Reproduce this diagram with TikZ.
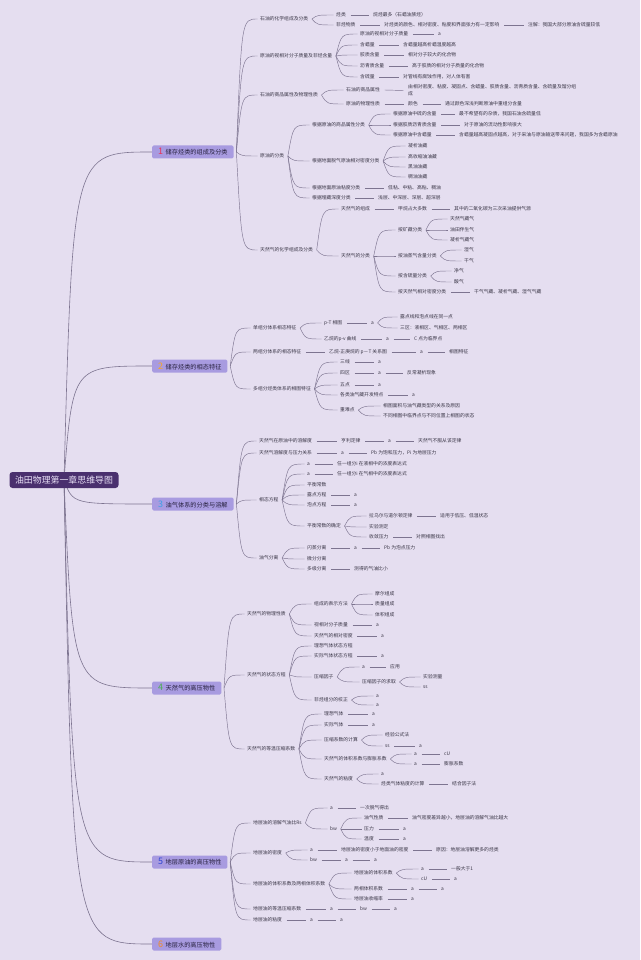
\documentclass[tikz,border=0pt]{standalone}
\usepackage{fontspec}
\setmainfont{Noto Sans CJK SC}
\usetikzlibrary{calc}
\definecolor{bgc}{RGB}{229,222,240}
\definecolor{lc}{RGB}{125,116,144}
\definecolor{txc}{RGB}{58,54,70}
\definecolor{rootc}{RGB}{74,48,110}
\definecolor{roott}{RGB}{232,224,246}
\definecolor{topc}{RGB}{168,155,224}
\definecolor{topt}{RGB}{40,34,64}
\definecolor{nA}{RGB}{232,52,90}
\definecolor{nB}{RGB}{245,166,35}
\definecolor{nC}{RGB}{59,160,230}
\definecolor{nD}{RGB}{76,175,80}
\definecolor{nE}{RGB}{50,70,210}
\definecolor{nF}{RGB}{242,140,40}
\pgfdeclarelayer{back}\pgfdeclarelayer{edges}\pgfsetlayers{back,edges,main}
\newcommand\mmN[4]{\node[tx] (#1) at (#2,#3) {#4};}
\newcommand\mmL[2]{\draw[ln] ([xshift=3.5pt]#1.east) -- ([xshift=-3.5pt]#2.west);}
\newcommand\mmB[2]{\draw[ln] let \p1=([xshift=2.5pt]#1.east), \p2=([xshift=-1.5pt]#2.west) in (\p1) .. controls ({\x1+0.25*(\x2-\x1)},\y2) .. (\p2);}
\newcommand\mmR[1]{\draw[rl] let \p1=(root.center), \p2=(#1.west) in (\p1) .. controls ({\x1+0.1*(\x2-\x1)},\y2) .. (\p2);}
\newcommand\mmT[2]{{\color{#1}\fontsize{9}{9}\selectfont #2}\hspace{2.5pt}}
\begin{document}
\begin{tikzpicture}[x=1pt,y=-1pt,
  tx/.style={anchor=west,text=txc,font=\fontsize{4.8}{5}\selectfont,inner sep=1pt,text height=4.2pt,text depth=0.8pt},
  txb/.style={anchor=west,text=txc,font=\fontsize{4.8}{7}\selectfont,inner sep=1pt,align=left},
  ln/.style={draw=lc,line width=0.45pt},
  rl/.style={draw=lc,line width=0.6pt},
  topic/.style={anchor=west,fill=topc,text=topt,font=\fontsize{6.2}{7}\selectfont,minimum height=13pt,inner xsep=6pt,inner ysep=0pt,rounded corners=1.5pt},
  rootn/.style={fill=rootc,text=roott,font=\fontsize{8.9}{10}\selectfont,minimum height=16pt,minimum width=109pt,inner sep=0pt,rounded corners=3pt}]
\useasboundingbox (0,0) rectangle (640,960);
\begin{pgfonlayer}{back}
\fill[bgc] (0,0) rectangle (640,960);
\end{pgfonlayer}
% root and topics
\node[rootn] (root) at (64,480) {油田物理第一章思维导图};
\node[topic] (t1) at (152,152) {\mmT{nA}{1}储存烃类的组成及分类};
\node[topic] (t2) at (152,366) {\mmT{nB}{2}储存烃类的相态特征};
\node[topic] (t3) at (152,504) {\mmT{nC}{3}油气体系的分类与溶解};
\node[topic] (t4) at (152,688) {\mmT{nD}{4}天然气的高压物性};
\node[topic] (t5) at (152,862) {\mmT{nE}{5}地层原油的高压物性};
\node[topic] (t6) at (152,944) {\mmT{nF}{6}地层水的高压物性};
% ---------- topic 1
\mmN{a1}{259}{19}{石油的化学组成及分类}
\mmN{a1a}{335}{15}{烃类}
\mmN{a1a1}{372}{15}{烷烃最多（石蜡油族烃）}
\mmN{a1b}{335}{25}{非烃物质}
\mmN{a1b1}{383}{25}{对烃类的颜色、相对密度、粘度和界面张力有一定影响}
\mmN{a1b2}{527}{25}{注解：我国大部分原油含硫量较低}
\mmN{a2}{259}{56}{原油的视相对分子质量及非烃含量}
\mmN{a2a}{359}{34}{原油的视相对分子质量}
\mmN{a2a1}{437}{34}{a}
\mmN{a2b}{359}{45}{含蜡量}
\mmN{a2b1}{402}{45}{含蜡量越高析蜡温度越高}
\mmN{a2c}{359}{55}{胶质含量}
\mmN{a2c1}{407}{55}{相对分子较大的化合物}
\mmN{a2d}{359}{66}{沥青质含量}
\mmN{a2d1}{411}{66}{高于胶质的相对分子质量的化合物}
\mmN{a2e}{359}{77}{含硫量}
\mmN{a2e1}{402}{77}{对管线有腐蚀作用，对人体有害}
\mmN{a3}{259}{95}{石油的商品属性及物理性质}
\mmN{a3a}{345}{90}{石油的商品属性}
\node[txb] (a3a1) at (407,90.5) {由相对密度、粘度、凝固点、含蜡量、胶质含量、沥青质含量、含硫量及馏分组\\成};
\mmN{a3b}{345}{104}{原油的物理性质}
\mmN{a3b1}{407}{104}{颜色}
\mmN{a3b2}{444}{104}{通过颜色深浅判断原油中重组分含量}
\mmN{a4}{259}{156}{原油的分类}
\mmN{a4a}{311}{125}{根据原油的商品属性分类}
\mmN{a4a1}{392}{114}{根据原油中硫的含量}
\mmN{a4a1x}{458}{114}{最不希望有的杂质，我国石油含硫量低}
\mmN{a4a2}{392}{125}{根据胶质沥青质含量}
\mmN{a4a2x}{463}{125}{对于原油的流动性影响很大}
\mmN{a4a3}{392}{135}{根据原油中含蜡量}
\mmN{a4a3x}{458}{135}{含蜡量越高凝固点越高，对于采油与原油输送带来问题，我国多为含蜡原油}
\mmN{a4b}{311}{161}{根据地面脱气原油相对密度分类}
\mmN{a4b1}{407}{146}{凝析油藏}
\mmN{a4b2}{407}{157}{高收缩油油藏}
\mmN{a4b3}{407}{167}{黑油油藏}
\mmN{a4b4}{407}{177}{稠油油藏}
\mmN{a4c}{311}{188}{根据地面原油粘度分类}
\mmN{a4c1}{387}{188}{低粘、中粘、高粘、稠油}
\mmN{a4d}{311}{198}{根据埋藏深度分类}
\mmN{a4d1}{377}{198}{浅层、中深层、深层、超深层}
\mmN{a5}{259}{250}{天然气的化学组成及分类}
\mmN{a5a}{340}{209}{天然气的组成}
\mmN{a5a1}{397}{209}{甲烷占大多数}
\mmN{a5a2}{453}{209}{其中的二氧化碳为三次采油提供气源}
\mmN{a5b}{340}{256}{天然气的分类}
\mmN{a5b1}{397}{230}{按矿藏分类}
\mmN{a5b1a}{449}{219}{天然气藏气}
\mmN{a5b1b}{449}{230}{油田伴生气}
\mmN{a5b1c}{449}{240}{凝析气藏气}
\mmN{a5b2}{397}{256}{按油蒸气含量分类}
\mmN{a5b2a}{463}{250}{湿气}
\mmN{a5b2b}{463}{261}{干气}
\mmN{a5b3}{397}{276}{按含硫量分类}
\mmN{a5b3a}{453}{271}{净气}
\mmN{a5b3b}{453}{282}{酸气}
\mmN{a5b4}{397}{292}{按天然气相对密度分类}
\mmN{a5b4a}{473}{292}{干气气藏、凝析气藏、湿气气藏}
% ---------- topic 2
\mmN{b1}{252}{328}{单组分体系相态特征}
\mmN{b1a}{323}{323}{p-T 相图}
\mmN{b1a1}{370}{323}{a}
\mmN{b1a1a}{399}{317}{露点线和泡点线在同一点}
\mmN{b1a1b}{399}{328}{三区：液相区、气相区、两相区}
\mmN{b1b}{323}{339}{乙烷的p-v 曲线}
\mmN{b1b1}{385}{339}{a}
\mmN{b1b2}{413}{339}{C 点为临界点}
\mmN{b2}{252}{352}{两组分体系的相态特征}
\mmN{b2a}{328}{352}{乙烷-正庚烷的 p－T 关系图}
\mmN{b2b}{419}{352}{a}
\mmN{b2c}{448}{352}{相图特征}
\mmN{b3}{252}{389}{多组分烃类体系的相图特征}
\mmN{b3a}{339}{362}{三线}
\mmN{b3a1}{377}{362}{a}
\mmN{b3b}{339}{373}{四区}
\mmN{b3b1}{377}{373}{a}
\mmN{b3b2}{406}{373}{反常凝析现象}
\mmN{b3c}{339}{385}{五点}
\mmN{b3c1}{377}{385}{a}
\mmN{b3d}{339}{395}{各类油气藏开发特点}
\mmN{b3d1}{411}{395}{a}
\mmN{b3e}{339}{410}{重难点}
\mmN{b3e1}{382}{406}{相图面积与油气藏类型的关系及原因}
\mmN{b3e2}{382}{416}{不同相图中临界点与不同位置上相图的状态}
% ---------- topic 3
\mmN{c1}{258}{441}{天然气在原油中的溶解度}
\mmN{c1a}{340}{441}{亨利定律}
\mmN{c1b}{387}{441}{a}
\mmN{c1c}{417}{441}{天然气不服从该定律}
\mmN{c2}{258}{453}{天然气溶解度与压力关系}
\mmN{c2a}{340}{453}{a}
\mmN{c2b}{370}{453}{Pb 为饱和压力，Pi 为地层压力}
\mmN{c3}{258}{500}{相态方程}
\mmN{c3a}{306}{464}{a}
\mmN{c3a1}{336}{464}{任一组分i 在液相中的浓度表达式}
\mmN{c3b}{306}{474}{a}
\mmN{c3b1}{336}{474}{任一组分i 在气相中的浓度表达式}
\mmN{c3c}{306}{485}{平衡常数}
\mmN{c3d}{306}{495}{露点方程}
\mmN{c3d1}{353}{495}{a}
\mmN{c3e}{306}{505}{泡点方程}
\mmN{c3e1}{353}{505}{a}
\mmN{c3f}{306}{526}{平衡常数的确定}
\mmN{c3f1}{368}{516}{拉乌尔与道尔顿定律}
\mmN{c3f1a}{439}{516}{适用于低压、低温状态}
\mmN{c3f2}{368}{527}{实验测定}
\mmN{c3f3}{368}{537}{收敛压力}
\mmN{c3f3a}{415}{537}{对照相图找出}
\mmN{c4}{258}{558}{油气分离}
\mmN{c4a}{306}{548}{闪蒸分离}
\mmN{c4a1}{353}{548}{a}
\mmN{c4a2}{383}{548}{Pb 为泡点压力}
\mmN{c4b}{306}{559}{微分分离}
\mmN{c4c}{306}{569}{多级分离}
\mmN{c4c1}{353}{569}{测得的气油比小}
% ---------- topic 4
\mmN{d1}{246}{614}{天然气的物理性质}
\mmN{d1a}{313}{604}{组成的表示方法}
\mmN{d1a1}{374}{594}{摩尔组成}
\mmN{d1a2}{374}{604}{质量组成}
\mmN{d1a3}{374}{615}{体积组成}
\mmN{d1b}{313}{625}{视相对分子质量}
\mmN{d1b1}{375}{625}{a}
\mmN{d1c}{313}{636}{天然气的相对密度}
\mmN{d1c1}{380}{636}{a}
\mmN{d2}{246}{675}{天然气的状态方程}
\mmN{d2a}{313}{646}{理想气体状态方程}
\mmN{d2b}{313}{656}{实际气体状态方程}
\mmN{d2b1}{380}{656}{a}
\mmN{d2c}{313}{677}{压缩因子}
\mmN{d2c1}{361}{667}{a}
\mmN{d2c1a}{389}{667}{应用}
\mmN{d2c2}{361}{682}{压缩因子的求取}
\mmN{d2c2a}{422}{677}{实验测量}
\mmN{d2c2b}{422}{687}{ss}
\mmN{d2d}{313}{700}{非烃组分的校正}
\mmN{d2d1}{375}{696}{a}
\mmN{d2d2}{375}{705}{a}
\mmN{d3}{246}{749}{天然气的等温压缩系数}
\mmN{d3a}{323}{714}{理想气体}
\mmN{d3a1}{371}{714}{a}
\mmN{d3b}{323}{725}{实际气体}
\mmN{d3b1}{371}{725}{a}
\mmN{d3c}{323}{740}{压缩系数的计算}
\mmN{d3c1}{384}{735}{经验公式法}
\mmN{d3c2}{384}{746}{ss}
\mmN{d3c2a}{418}{746}{a}
\mmN{d3d}{323}{759}{天然气的体积系数与膨胀系数}
\mmN{d3d1}{413}{754}{a}
\mmN{d3d1a}{443}{754}{cU}
\mmN{d3d2}{413}{764}{a}
\mmN{d3d2a}{443}{764}{膨胀系数}
\mmN{d3e}{323}{779}{天然气的粘度}
\mmN{d3e1}{380}{774}{a}
\mmN{d3e2}{380}{784}{烃类气体粘度的计算}
\mmN{d3e2a}{451}{784}{结合因子法}
% ---------- topic 5
\mmN{e1}{252}{823}{地层油的溶解气油比Rs}
\mmN{e1a}{329}{808}{a}
\mmN{e1a1}{359}{808}{一次脱气得出}
\mmN{e1b}{329}{829}{bw}
\mmN{e1b1}{363}{818}{油气性质}
\mmN{e1b1a}{411}{818}{油气密度差异越小，地层油的溶解气油比越大}
\mmN{e1b2}{363}{829}{压力}
\mmN{e1b2a}{402}{829}{a}
\mmN{e1b3}{363}{839}{温度}
\mmN{e1b3a}{402}{839}{a}
\mmN{e2}{252}{853}{地层油的密度}
\mmN{e2a}{309}{850}{a}
\mmN{e2a1}{340}{850}{地层油的密度小于地面油的密度}
\mmN{e2a2}{435}{850}{原因：地层油溶解更多的烃类}
\mmN{e2b}{309}{860}{bw}
\mmN{e2b1}{344}{860}{a}
\mmN{e2b2}{373}{860}{a}
\mmN{e3}{252}{884}{地层油的体积系数及两相体积系数}
\mmN{e3a}{353}{873}{地层油的体积系数}
\mmN{e3a1}{420}{869}{a}
\mmN{e3a1a}{450}{869}{一般大于1}
\mmN{e3a2}{420}{879}{cU}
\mmN{e3a2a}{453}{879}{a}
\mmN{e3b}{353}{889}{两相体积系数}
\mmN{e3b1}{410}{889}{a}
\mmN{e3b2}{440}{889}{a}
\mmN{e3c}{353}{899}{地层油收缩率}
\mmN{e3c1}{410}{899}{a}
\mmN{e4}{252}{909}{地层油的等温压缩系数}
\mmN{e4a}{329}{909}{a}
\mmN{e4b}{359}{909}{bw}
\mmN{e4c}{393}{909}{a}
\mmN{e5}{252}{920}{地层油的粘度}
\mmN{e5a}{309}{920}{a}
\mmN{e5b}{339}{920}{a}
% ================= connectors
\begin{pgfonlayer}{edges}
\mmR{t1}\mmR{t2}\mmR{t3}\mmR{t4}\mmR{t5}\mmR{t6}
% topic 1
\mmB{t1}{a1}\mmB{t1}{a2}\mmB{t1}{a3}\mmB{t1}{a4}\mmB{t1}{a5}
\mmB{a1}{a1a}\mmB{a1}{a1b}\mmL{a1a}{a1a1}\mmL{a1b}{a1b1}\mmL{a1b1}{a1b2}
\mmB{a2}{a2a}\mmB{a2}{a2b}\mmB{a2}{a2c}\mmB{a2}{a2d}\mmB{a2}{a2e}
\mmL{a2a}{a2a1}\mmL{a2b}{a2b1}\mmL{a2c}{a2c1}\mmL{a2d}{a2d1}\mmL{a2e}{a2e1}
\mmB{a3}{a3a}\mmB{a3}{a3b}\mmL{a3a}{a3a1}\mmL{a3b}{a3b1}\mmL{a3b1}{a3b2}
\mmB{a4}{a4a}\mmB{a4}{a4b}\mmB{a4}{a4c}\mmB{a4}{a4d}
\mmB{a4a}{a4a1}\mmB{a4a}{a4a2}\mmB{a4a}{a4a3}
\mmL{a4a1}{a4a1x}\mmL{a4a2}{a4a2x}\mmL{a4a3}{a4a3x}
\mmB{a4b}{a4b1}\mmB{a4b}{a4b2}\mmB{a4b}{a4b3}\mmB{a4b}{a4b4}
\mmL{a4c}{a4c1}\mmL{a4d}{a4d1}
\mmB{a5}{a5a}\mmB{a5}{a5b}\mmL{a5a}{a5a1}\mmL{a5a1}{a5a2}
\mmB{a5b}{a5b1}\mmB{a5b}{a5b2}\mmB{a5b}{a5b3}\mmB{a5b}{a5b4}
\mmB{a5b1}{a5b1a}\mmB{a5b1}{a5b1b}\mmB{a5b1}{a5b1c}
\mmB{a5b2}{a5b2a}\mmB{a5b2}{a5b2b}
\mmB{a5b3}{a5b3a}\mmB{a5b3}{a5b3b}
\mmL{a5b4}{a5b4a}
% topic 2
\mmB{t2}{b1}\mmB{t2}{b2}\mmB{t2}{b3}
\mmB{b1}{b1a}\mmB{b1}{b1b}\mmL{b1a}{b1a1}\mmB{b1a1}{b1a1a}\mmB{b1a1}{b1a1b}
\mmL{b1b}{b1b1}\mmL{b1b1}{b1b2}
\mmL{b2}{b2a}\mmL{b2a}{b2b}\mmL{b2b}{b2c}
\mmB{b3}{b3a}\mmB{b3}{b3b}\mmB{b3}{b3c}\mmB{b3}{b3d}\mmB{b3}{b3e}
\mmL{b3a}{b3a1}\mmL{b3b}{b3b1}\mmL{b3b1}{b3b2}\mmL{b3c}{b3c1}\mmL{b3d}{b3d1}
\mmB{b3e}{b3e1}\mmB{b3e}{b3e2}
% topic 3
\mmB{t3}{c1}\mmB{t3}{c2}\mmB{t3}{c3}\mmB{t3}{c4}
\mmL{c1}{c1a}\mmL{c1a}{c1b}\mmL{c1b}{c1c}
\mmL{c2}{c2a}\mmL{c2a}{c2b}
\mmB{c3}{c3a}\mmB{c3}{c3b}\mmB{c3}{c3c}\mmB{c3}{c3d}\mmB{c3}{c3e}\mmB{c3}{c3f}
\mmL{c3a}{c3a1}\mmL{c3b}{c3b1}\mmL{c3d}{c3d1}\mmL{c3e}{c3e1}
\mmB{c3f}{c3f1}\mmB{c3f}{c3f2}\mmB{c3f}{c3f3}\mmL{c3f1}{c3f1a}\mmL{c3f3}{c3f3a}
\mmB{c4}{c4a}\mmB{c4}{c4b}\mmB{c4}{c4c}
\mmL{c4a}{c4a1}\mmL{c4a1}{c4a2}\mmL{c4c}{c4c1}
% topic 4
\mmB{t4}{d1}\mmB{t4}{d2}\mmB{t4}{d3}
\mmB{d1}{d1a}\mmB{d1}{d1b}\mmB{d1}{d1c}
\mmB{d1a}{d1a1}\mmB{d1a}{d1a2}\mmB{d1a}{d1a3}
\mmL{d1b}{d1b1}\mmL{d1c}{d1c1}
\mmB{d2}{d2a}\mmB{d2}{d2b}\mmB{d2}{d2c}\mmB{d2}{d2d}
\mmL{d2b}{d2b1}
\mmB{d2c}{d2c1}\mmB{d2c}{d2c2}\mmL{d2c1}{d2c1a}
\mmB{d2c2}{d2c2a}\mmB{d2c2}{d2c2b}
\mmB{d2d}{d2d1}\mmB{d2d}{d2d2}
\mmB{d3}{d3a}\mmB{d3}{d3b}\mmB{d3}{d3c}\mmB{d3}{d3d}\mmB{d3}{d3e}
\mmL{d3a}{d3a1}\mmL{d3b}{d3b1}
\mmB{d3c}{d3c1}\mmB{d3c}{d3c2}\mmL{d3c2}{d3c2a}
\mmB{d3d}{d3d1}\mmB{d3d}{d3d2}\mmL{d3d1}{d3d1a}\mmL{d3d2}{d3d2a}
\mmB{d3e}{d3e1}\mmB{d3e}{d3e2}\mmL{d3e2}{d3e2a}
% topic 5
\mmB{t5}{e1}\mmB{t5}{e2}\mmB{t5}{e3}\mmB{t5}{e4}\mmB{t5}{e5}
\mmB{e1}{e1a}\mmB{e1}{e1b}\mmL{e1a}{e1a1}
\mmB{e1b}{e1b1}\mmB{e1b}{e1b2}\mmB{e1b}{e1b3}
\mmL{e1b1}{e1b1a}\mmL{e1b2}{e1b2a}\mmL{e1b3}{e1b3a}
\mmB{e2}{e2a}\mmB{e2}{e2b}\mmL{e2a}{e2a1}\mmL{e2a1}{e2a2}\mmL{e2b}{e2b1}\mmL{e2b1}{e2b2}
\mmB{e3}{e3a}\mmB{e3}{e3b}\mmB{e3}{e3c}
\mmB{e3a}{e3a1}\mmB{e3a}{e3a2}\mmL{e3a1}{e3a1a}\mmL{e3a2}{e3a2a}
\mmL{e3b}{e3b1}\mmL{e3b1}{e3b2}\mmL{e3c}{e3c1}
\mmL{e4}{e4a}\mmL{e4a}{e4b}\mmL{e4b}{e4c}
\mmL{e5}{e5a}\mmL{e5a}{e5b}
\end{pgfonlayer}
\end{tikzpicture}
\end{document}
